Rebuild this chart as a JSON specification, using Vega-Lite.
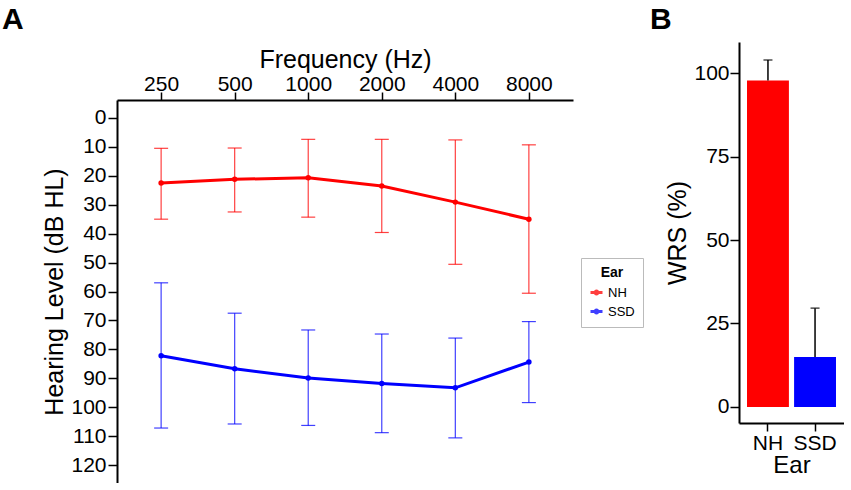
{
  "$schema": "https://vega.github.io/schema/vega-lite/v6.json",
  "padding": {"left": 2, "top": 5, "right": 0, "bottom": 0},
  "background": "white",
  "spacing": 5,
  "config": {
    "font": "Liberation Sans",
    "view": {"stroke": null},
    "axis": {
      "grid": false,
      "domainColor": "black",
      "domainWidth": 2,
      "tickColor": "black",
      "tickWidth": 1.5,
      "labelColor": "black",
      "titleColor": "black",
      "labelFontSize": 21,
      "titleFontSize": 25,
      "titleFontWeight": "normal",
      "labelPadding": 2,
      "labelOverlap": false
    },
    "title": {"fontSize": 30, "fontWeight": "bold", "anchor": "start", "color": "black"}
  },
  "resolve": {"scale": {"color": "independent"}},
  "hconcat": [
    {
      "spacing": 4,
      "vconcat": [
        {
          "title": {"text": "A", "dx": -115, "offset": 7},
          "width": 456,
          "height": 1,
          "data": {"values": []},
          "mark": {"type": "point", "opacity": 0}
        },
        {
          "width": 456,
          "height": 383,
          "data": {"values": [
            {"freq": "250", "ear": "NH", "mean": 22.5, "lo": 10.5, "hi": 35.0},
            {"freq": "500", "ear": "NH", "mean": 21.2, "lo": 10.4, "hi": 32.5},
            {"freq": "1000", "ear": "NH", "mean": 20.7, "lo": 7.4, "hi": 34.3},
            {"freq": "2000", "ear": "NH", "mean": 23.5, "lo": 7.4, "hi": 39.6},
            {"freq": "4000", "ear": "NH", "mean": 29.1, "lo": 7.6, "hi": 50.6},
            {"freq": "8000", "ear": "NH", "mean": 35.0, "lo": 9.3, "hi": 60.6},
            {"freq": "250", "ear": "SSD", "mean": 82.2, "lo": 57.0, "hi": 107.2},
            {"freq": "500", "ear": "SSD", "mean": 86.7, "lo": 67.5, "hi": 105.8},
            {"freq": "1000", "ear": "SSD", "mean": 89.9, "lo": 73.3, "hi": 106.3},
            {"freq": "2000", "ear": "SSD", "mean": 91.8, "lo": 74.7, "hi": 108.8},
            {"freq": "4000", "ear": "SSD", "mean": 93.3, "lo": 76.1, "hi": 110.6},
            {"freq": "8000", "ear": "SSD", "mean": 84.4, "lo": 70.4, "hi": 98.4}
          ]},
          "encoding": {
            "x": {
              "field": "freq", "type": "ordinal",
              "sort": ["250", "500", "1000", "2000", "4000", "8000"],
              "scale": {"type": "point", "padding": 0.6},
              "axis": {"orient": "top", "labelAngle": 0, "title": "Frequency (Hz)", "tickSize": 8, "labelPadding": -2, "titlePadding": 1}
            },
            "color": {
              "field": "ear", "type": "nominal",
              "scale": {"domain": ["NH", "SSD"], "range": ["#ff0000", "#0000ff"]},
              "legend": {
                "orient": "none", "legendX": 464, "legendY": 216,
                "title": "Ear", "titleFontSize": 14, "titleFontWeight": "bold", "titleAnchor": "middle",
                "labelFontSize": 13, "labelColor": "black", "titleColor": "black",
                "strokeColor": "#bbbbbb", "padding": 8,
                "symbolType": "M-1,0L1,0M-0.25,0A0.25,0.25 0 1,0 0.25,0A0.25,0.25 0 1,0 -0.25,0",
                "symbolStrokeWidth": 3, "symbolSize": 144,
                "rowPadding": 4
              }
            }
          },
          "layer": [
            {
              "mark": {"type": "errorbar", "ticks": {"size": 14}, "thickness": 1.2, "opacity": 0.75},
              "encoding": {
                "y": {
                  "field": "lo", "type": "quantitative",
                  "scale": {"domain": [-6.2, 126.2], "reverse": true, "nice": false, "zero": false},
                  "axis": {"values": [0, 10, 20, 30, 40, 50, 60, 70, 80, 90, 100, 110, 120], "title": "Hearing Level (dB HL)", "tickSize": 9, "labelPadding": 2, "titlePadding": 3}
                },
                "y2": {"field": "hi"}
              }
            },
            {
              "mark": {"type": "line", "strokeWidth": 3, "point": {"filled": true, "size": 30}},
              "encoding": {
                "y": {
                  "field": "mean", "type": "quantitative",
                  "scale": {"domain": [-6.2, 126.2], "reverse": true, "nice": false, "zero": false},
                  "axis": {"values": [0, 10, 20, 30, 40, 50, 60, 70, 80, 90, 100, 110, 120], "title": "Hearing Level (dB HL)", "tickSize": 9, "labelPadding": 2, "titlePadding": 3}
                }
              }
            }
          ]
        }
      ]
    },
    {
      "title": {"text": "B", "dx": -16, "offset": 7},
      "width": 105,
      "height": 381,
      "data": {"values": [
        {"ear": "NH", "wrs": 97.8, "upper": 103.9},
        {"ear": "SSD", "wrs": 15.0, "upper": 29.6}
      ]},
      "encoding": {
        "x": {
          "field": "ear", "type": "nominal",
          "scale": {"paddingInner": 0.11, "paddingOuter": 0.17},
          "axis": {"labelAngle": 0, "title": "Ear", "titleFontSize": 24, "tickSize": 8, "labelPadding": 1, "titlePadding": 0}
        }
      },
      "layer": [
        {
          "mark": {"type": "bar"},
          "encoding": {
            "y": {
              "field": "wrs", "type": "quantitative",
              "scale": {"domain": [-4.8, 109.3], "nice": false, "zero": false},
              "axis": {"values": [0, 25, 50, 75, 100], "title": "WRS (%)", "tickSize": 9, "labelPadding": 1, "titlePadding": 3}
            },
            "color": {
              "field": "ear", "type": "nominal",
              "scale": {"domain": ["NH", "SSD"], "range": ["#ff0000", "#0000ff"]},
              "legend": null
            }
          }
        },
        {
          "mark": {"type": "rule", "color": "black", "strokeWidth": 1.5},
          "encoding": {
            "y": {"field": "wrs", "type": "quantitative"},
            "y2": {"field": "upper"}
          }
        },
        {
          "mark": {"type": "tick", "color": "black", "thickness": 1.5, "size": 9},
          "encoding": {
            "y": {"field": "upper", "type": "quantitative"}
          }
        }
      ]
    }
  ]
}
